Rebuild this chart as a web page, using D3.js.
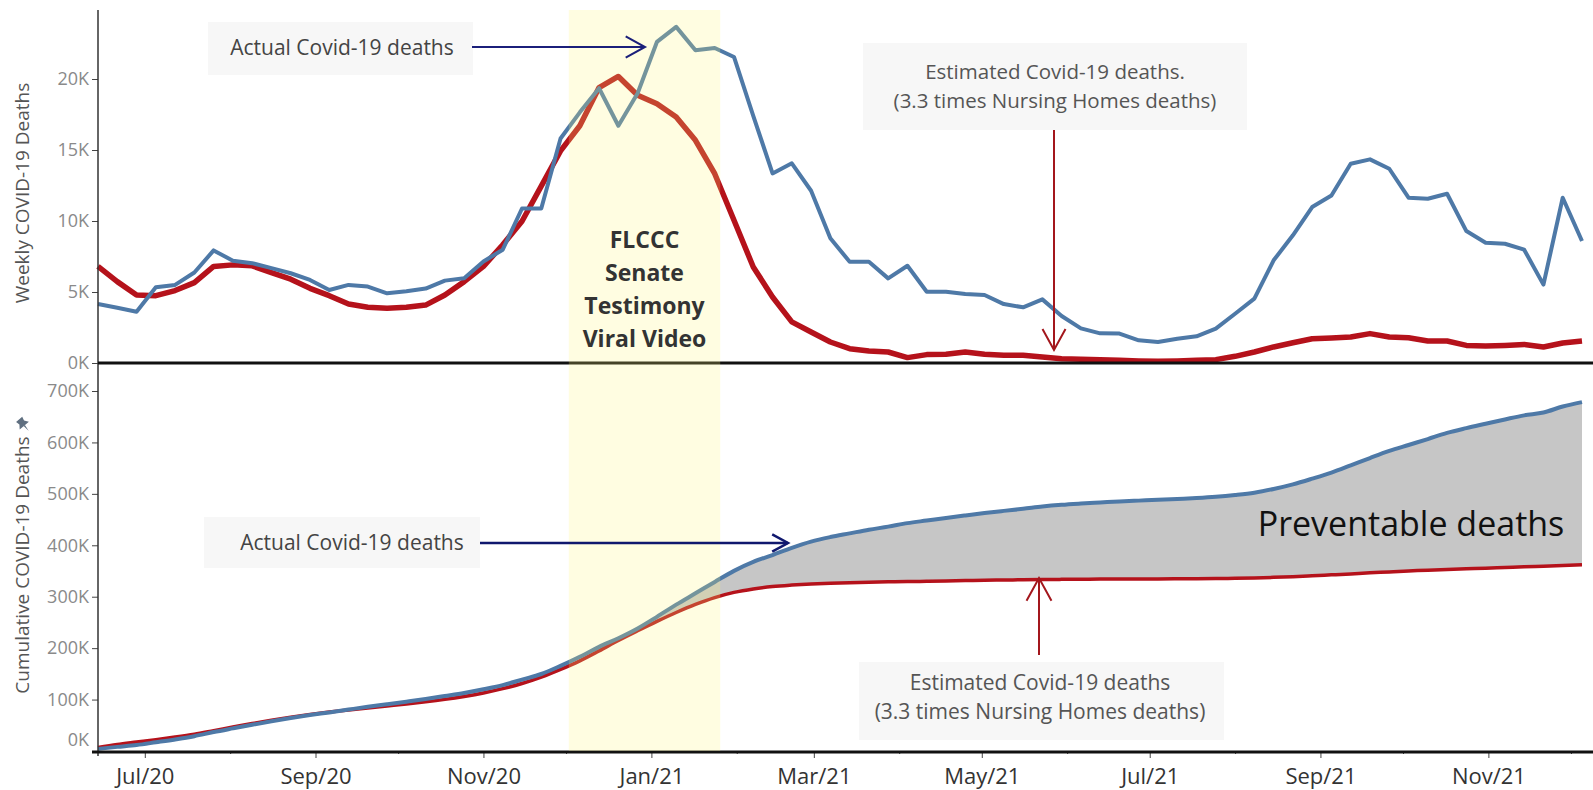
<!DOCTYPE html>
<html>
<head>
<meta charset="utf-8">
<script src="https://cdn.jsdelivr.net/npm/d3@7"></script>
<style>
  body { margin: 0; background: #fff; }
  svg { display: block; font-family: "Open Sans", sans-serif; }
</style>
</head>
<body>
<svg width="1593" height="790"></svg>
<script>
// weekly values, first week ending 14 Jun 2020
const firstWeek = new Date(2020, 5, 14);
const actualWeekly = [
    4150, 3890, 3610, 5330, 5500, 6370, 7930, 7200, 7030, 6680,
    6320, 5850, 5140, 5500, 5380, 4910, 5050, 5240, 5800, 5970,
    7150, 7980, 10880, 10880, 15810, 17650, 19350, 16710, 19000, 22610,
    23670, 22020, 22180, 21550, 17410, 13350, 14060, 12130, 8780, 7130,
    7130, 5960, 6850, 5020, 5020, 4860, 4790, 4150, 3920, 4480,
    3310, 2440, 2090, 2070, 1600, 1480, 1710, 1880, 2420, 3470,
    4530, 7230, 8990, 10980, 11800, 14030, 14340, 13680, 11640, 11570,
    11920, 9290, 8470, 8400, 7980, 5520, 11640, 8590
];
const estimatedWeekly = [
    6800, 5730, 4790, 4740, 5100, 5660, 6800, 6910, 6840, 6370,
    5900, 5260, 4740, 4150, 3920, 3850, 3920, 4080, 4790, 5730,
    6800, 8330, 9980, 12460, 14940, 16710, 19400, 20180, 18850, 18260,
    17320, 15680, 13330, 10050, 6760, 4650, 2900, 2180, 1480, 1010,
    845, 775, 380, 590, 610, 775, 610, 540, 540, 420,
    305, 260, 235, 190, 140, 120, 140, 190, 235, 470,
    775, 1130, 1430, 1710, 1760, 1830, 2070, 1830, 1780, 1550,
    1550, 1240, 1200, 1240, 1310, 1130, 1410, 1550
];
const weeklyTicks = [0, 5000, 10000, 15000, 20000];
const cumulativeTicks = [0, 100000, 200000, 300000, 400000, 500000, 600000, 700000];
const bandStart = new Date(2020, 11, 2);
const bandEnd = new Date(2021, 0, 26);
const bandLines = ["FLCCC", "Senate", "Testimony", "Viral Video"];

let weeks = actualWeekly.map(function(d, i) { return d3.timeDay.offset(firstWeek, 7 * i); });
// bottom panel is the running total of the weekly series
let actualCum = Array.from(d3.cumsum(actualWeekly));
let estimatedCum = Array.from(d3.cumsum(estimatedWeekly));

let blue = "#4e79a7", red = "#b5121b";

let svg = d3.select("svg");

let x = d3.scaleTime().domain([new Date(2020, 5, 14), new Date(2021, 11, 9)]).range([98, 1593]);
let yTop = d3.scaleLinear().domain([0, 25000]).range([363, 8]);
let yBot = d3.scaleLinear().domain([0, 700000]).range([751, 391]);

// annotation boxes
function box(x0, y0, w, h) {
    svg.append("rect").attr("x", x0).attr("y", y0).attr("width", w).attr("height", h)
        .attr("fill", "#f7f7f7");
}
box(208, 22, 265, 53);
box(863, 43, 384, 87);
box(204, 517, 276, 51);
box(859, 662, 365, 78);

// gap between actual and estimated
let area = d3.area()
    .x(function(d, i) { return x(weeks[i]); })
    .y0(function(d, i) { return yBot(estimatedCum[i]); })
    .y1(function(d, i) { return yBot(Math.max(actualCum[i], estimatedCum[i])); })
    .curve(d3.curveMonotoneX);
svg.append("path").datum(actualCum).attr("d", area).attr("fill", "#c6c6c6");

let lineTop = d3.line()
    .x(function(d, i) { return x(weeks[i]); })
    .y(function(d) { return yTop(d); });
let lineBot = d3.line()
    .x(function(d, i) { return x(weeks[i]); })
    .y(function(d) { return yBot(d); })
    .curve(d3.curveMonotoneX);

svg.append("path").datum(estimatedWeekly).attr("d", lineTop)
    .attr("fill", "none").attr("stroke", red).attr("stroke-width", 5.5).attr("stroke-linejoin", "round");
svg.append("path").datum(actualWeekly).attr("d", lineTop)
    .attr("fill", "none").attr("stroke", blue).attr("stroke-width", 4).attr("stroke-linejoin", "round");

svg.append("path").datum(estimatedCum).attr("d", lineBot)
    .attr("fill", "none").attr("stroke", red).attr("stroke-width", 3.5);
svg.append("path").datum(actualCum).attr("d", lineBot)
    .attr("fill", "none").attr("stroke", blue).attr("stroke-width", 4);

// axes
let fmtK = function(d) { return (d / 1000) + "K"; };

let axTop = svg.append("g").attr("transform", "translate(98,0)")
    .call(d3.axisLeft(yTop).tickValues(weeklyTicks).tickSize(6).tickPadding(3).tickFormat(fmtK));
let axBot = svg.append("g").attr("transform", "translate(98,0)")
    .call(d3.axisLeft(yBot).tickValues(cumulativeTicks).tickSize(6).tickPadding(3).tickFormat(fmtK));
axBot.selectAll(".tick text").filter(function(d) { return d === 0; }).attr("y", -11);

[axTop, axBot].forEach(function(a) {
    a.select(".domain").remove();
    a.selectAll(".tick line").attr("stroke", "#444");
    a.selectAll(".tick text").attr("fill", "#8a8a8a").style("font-size", "18px")
        .style("font-family", "'Open Sans', sans-serif");
});

let xAxis = svg.append("g").attr("transform", "translate(0,751)")
    .call(d3.axisBottom(x).ticks(d3.timeMonth.every(1)).tickSize(7).tickPadding(10)
        .tickFormat(function(d) { return d.getMonth() % 2 === 0 ? d3.timeFormat("%b/%y")(d) : ""; }));
xAxis.select(".domain").remove();
xAxis.selectAll(".tick line").attr("stroke", "#444")
    .attr("y2", function(d) { return d.getMonth() % 2 === 0 ? 7 : 3; });
xAxis.selectAll(".tick text").attr("fill", "#333").style("font-size", "22px")
    .style("font-family", "'Open Sans', sans-serif");

svg.append("line").attr("x1", 98).attr("x2", 98).attr("y1", 10).attr("y2", 756)
    .attr("stroke", "#333").attr("stroke-width", 1.5);
svg.append("line").attr("x1", 98).attr("x2", 1593).attr("y1", 363).attr("y2", 363)
    .attr("stroke", "#111").attr("stroke-width", 3);
svg.append("line").attr("x1", 92).attr("x2", 1593).attr("y1", 752).attr("y2", 752)
    .attr("stroke", "#111").attr("stroke-width", 3);

// axis titles
svg.append("text").attr("transform", "translate(29,193) rotate(-90)")
    .attr("text-anchor", "middle").attr("fill", "#555").style("font-size", "19px")
    .text("Weekly COVID-19 Deaths");
svg.append("text").attr("transform", "translate(29,565) rotate(-90)")
    .attr("text-anchor", "middle").attr("fill", "#555").style("font-size", "19px")
    .text("Cumulative COVID-19 Deaths");
svg.append("path").attr("transform", "translate(23,424) rotate(-40)")
    .attr("d", "M-4,-6 L4,-6 L3,-2 L6,2 L-6,2 L-3,-2 Z M-0.8,2 L0,9 L0.8,2 Z")
    .attr("fill", "#5f6f80");

// highlighted period, laid over the lines
svg.append("rect").attr("x", x(bandStart)).attr("y", 10)
    .attr("width", x(bandEnd) - x(bandStart)).attr("height", 741)
    .attr("fill", "rgb(255,245,120)").attr("opacity", 0.22);

svg.selectAll(".band-label").data(bandLines).enter().append("text")
    .attr("class", "band-label")
    .attr("x", (x(bandStart) + x(bandEnd)) / 2)
    .attr("y", function(d, i) { return 240 + i * 33; })
    .attr("dy", "0.35em")
    .attr("text-anchor", "middle").attr("fill", "#333")
    .style("font-size", "23px").style("font-weight", "bold")
    .text(function(d) { return d; });

// arrows
function arrow(x1, y1, x2, y2, color, w, head) {
    let a = Math.atan2(y2 - y1, x2 - x1);
    svg.append("line").attr("x1", x1).attr("y1", y1).attr("x2", x2).attr("y2", y2)
        .attr("stroke", color).attr("stroke-width", w);
    let p = d3.path();
    p.moveTo(x2 - head * Math.cos(a - 0.5), y2 - head * Math.sin(a - 0.5));
    p.lineTo(x2, y2);
    p.lineTo(x2 - head * Math.cos(a + 0.5), y2 - head * Math.sin(a + 0.5));
    svg.append("path").attr("d", p.toString()).attr("fill", "none")
        .attr("stroke", color).attr("stroke-width", w);
}
arrow(472, 47, 645, 47, "#1b1f7a", 2, 22);
arrow(1054, 130, 1054, 350, "#a3161c", 2, 24);
arrow(480, 543, 788, 543, "#10186e", 2.5, 18);
arrow(1039, 655, 1039, 578, "#a3161c", 2, 26);

// annotation texts
function label(xc, yc, txt, size, color) {
    svg.append("text").attr("x", xc).attr("y", yc).attr("dy", "0.35em")
        .attr("text-anchor", "middle").attr("fill", color).style("font-size", size + "px")
        .text(txt);
}
label(342, 48, "Actual Covid-19 deaths", 21, "#444");
label(1055, 72, "Estimated Covid-19 deaths.", 20.5, "#555");
label(1055, 101, "(3.3 times Nursing Homes deaths)", 20.5, "#555");
label(352, 543, "Actual Covid-19 deaths", 21, "#444");
label(1040, 683, "Estimated Covid-19 deaths", 21, "#555");
label(1040, 712, "(3.3 times Nursing Homes deaths)", 21, "#555");
label(1411, 524, "Preventable deaths", 34, "#111");
</script>
</body>
</html>
